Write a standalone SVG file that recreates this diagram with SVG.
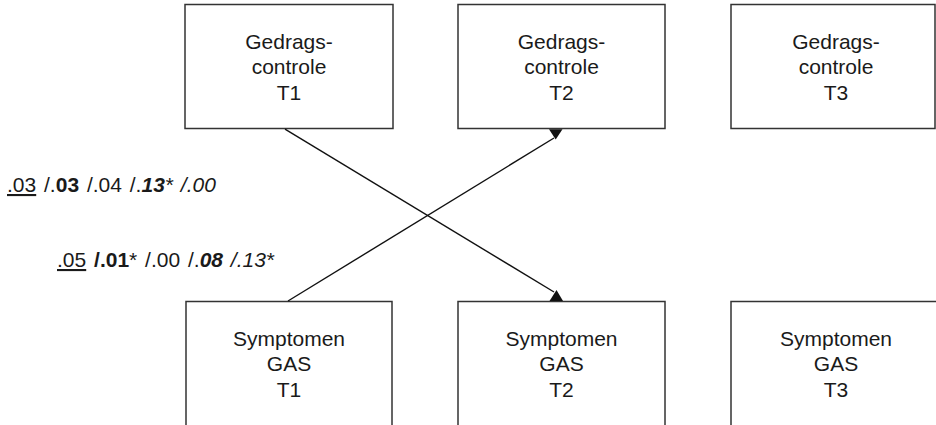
<svg xmlns="http://www.w3.org/2000/svg" width="936" height="425" viewBox="0 0 936 425">
<style>
.box{fill:#fff;stroke:#333;stroke-width:1.5}
.lbl{font-family:"Liberation Sans",Arial,sans-serif;font-size:21px;fill:#1a1a1a;text-anchor:middle}
.val{font-family:"Liberation Sans",Arial,sans-serif;font-size:21px;fill:#1a1a1a;word-spacing:2px}
.b{font-weight:bold}
.i{font-style:italic}
.u{text-decoration:underline}
.edge{stroke:#111;stroke-width:1.4;fill:none}
.head{fill:#111}
</style>
<rect width="936" height="425" fill="#fff"/>
<g id="gc1"><rect class="box" x="185" y="4.5" width="208" height="124"/>
<text class="lbl"><tspan x="289" y="48.5">Gedrags-</tspan><tspan x="289" y="74">controle</tspan><tspan x="289" y="99.5">T1</tspan></text></g>
<g id="gc2"><rect class="box" x="458" y="4.5" width="207" height="124"/>
<text class="lbl"><tspan x="561.5" y="48.5">Gedrags-</tspan><tspan x="561.5" y="74">controle</tspan><tspan x="561.5" y="99.5">T2</tspan></text></g>
<g id="gc3"><rect class="box" x="731" y="4.5" width="204" height="124"/>
<text class="lbl"><tspan x="836" y="48.5">Gedrags-</tspan><tspan x="836" y="74">controle</tspan><tspan x="836" y="99.5">T3</tspan></text></g>
<g id="gas1"><rect class="box" x="186" y="301.5" width="206" height="140"/>
<text class="lbl"><tspan x="289" y="345.5">Symptomen</tspan><tspan x="289" y="371">GAS</tspan><tspan x="289" y="396.5">T1</tspan></text></g>
<g id="gas2"><rect class="box" x="458" y="301.5" width="207" height="140"/>
<text class="lbl"><tspan x="561.5" y="345.5">Symptomen</tspan><tspan x="561.5" y="371">GAS</tspan><tspan x="561.5" y="396.5">T2</tspan></text></g>
<g id="gas3"><rect class="box" x="731" y="301.5" width="220" height="140"/>
<text class="lbl"><tspan x="836" y="345.5">Symptomen</tspan><tspan x="836" y="371">GAS</tspan><tspan x="836" y="396.5">T3</tspan></text></g>
<g id="connectors">
<line class="edge" x1="285" y1="129.2" x2="554" y2="292"/>
<line class="edge" x1="288" y1="301" x2="554" y2="138"/>
<polygon class="head" points="549.5,301 563,301 556.5,290"/>
<polygon class="head" points="549,129.2 562.5,129.2 555.7,139.5"/>
</g>
<g id="labels">
<text class="val" x="7" y="192"><tspan class="u">.03</tspan> /.<tspan class="b">03</tspan> /.04 /.<tspan class="b i">13</tspan><tspan class="i">* /.00</tspan></text>
<text class="val" x="57" y="267"><tspan class="u">.05</tspan> <tspan class="b">/.01</tspan>* /.00 /.<tspan class="b i">08</tspan><tspan class="i"> /.13*</tspan></text>
</g>
</svg>
